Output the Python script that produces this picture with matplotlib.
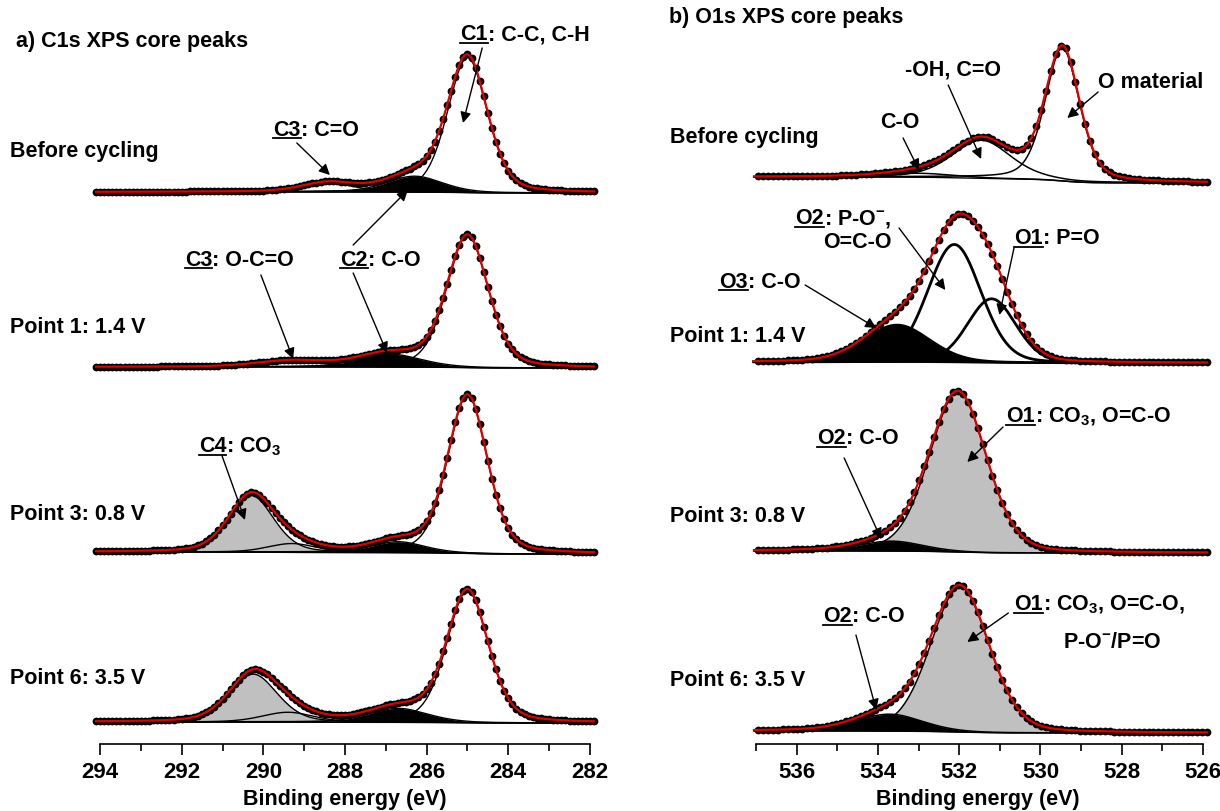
import numpy as np
import matplotlib
matplotlib.use("Agg")
import matplotlib.pyplot as plt
from matplotlib.lines import Line2D
from matplotlib.transforms import IdentityTransform

plt.rcParams['font.family'] = ['Liberation Sans', 'DejaVu Sans']
plt.rcParams['font.weight'] = 'bold'
plt.rcParams['mathtext.fontset'] = 'custom'
plt.rcParams['mathtext.rm'] = 'Liberation Sans:bold'
plt.rcParams['mathtext.it'] = 'Liberation Sans:bold'
plt.rcParams['mathtext.bf'] = 'Liberation Sans:bold'
plt.rcParams['mathtext.sf'] = 'Liberation Sans:bold'
plt.rcParams['mathtext.default'] = 'rm'

# ---------------- data ----------------
sample_labels = ["Before cycling", "Point 1: 1.4 V", "Point 3: 0.8 V", "Point 6: 3.5 V"]

# C1s fitted components: binding energy (eV), height (a.u.), FWHM (eV)
c1s_span = (281.9, 294.1)
c1s_centers = [[285.0, 286.3, 288.4],
               [285.0, 286.9, 289.3],
               [285.0, 286.7, 289.3, 290.3],
               [285.0, 286.7, 289.4, 290.25]]
c1s_heights = [[135, 16, 9],
               [132, 13, 6],
               [158, 11, 9, 57],
               [132, 14, 10, 48]]
c1s_fwhm = [[1.15, 1.6, 1.5],
            [1.2, 1.8, 2.0],
            [1.15, 1.5, 1.4, 1.3],
            [1.2, 1.7, 1.5, 1.4]]
c1s_fill = [['none', 'black', 'none'],
            ['none', 'black', 'none'],
            ['none', 'black', 'none', 'gray'],
            ['none', 'black', 'none', 'gray']]
c1s_bg_step = [1, 1, 2, 1]

# O1s fitted components
o1s_span = (525.9, 537.05)
o1s_centers = [[529.46, 531.45, 533.0],
               [531.2, 532.12, 533.53],
               [532.03, 533.67],
               [531.98, 533.72]]
o1s_heights = [[133, 38, 4],
               [64, 118, 37],
               [160, 10],
               [145, 17]]
o1s_fwhm = [[1.0, 1.7, 2.0],
            [1.4, 1.55, 1.9],
            [1.65, 1.8],
            [1.7, 1.9]]
o1s_fill = [['none', 'none', 'none'],
            ['none', 'none', 'black'],
            ['gray', 'black'],
            ['gray', 'black']]
o1s_bg_step = [6, 1, 2, 2]
o1s_mix = [0.35, 0.15, 0.2, 0.2]

c1s_ticks = [294, 292, 290, 288, 286, 284, 282]
o1s_ticks = [536, 534, 532, 530, 528, 526]

# ---------------- layout ----------------
c1s_offsets = [551, 376, 190, 21]
o1s_offsets = [561, 381, 191, 11]
FS = 15.5
W, H = 1220, 811
fig = plt.figure(figsize=(W / 100, H / 100), dpi=100)

def px_axes(x0, x1, ybot, ytop):
    return fig.add_axes([x0 / W, 1 - ybot / H, (x1 - x0) / W, (ybot - ytop) / H])

axL = px_axes(83.7, 606.3, 744, 0)
axR = px_axes(743.8, 1211.1, 744, 0)
axL.set_xlim(294.4, 281.6)
axR.set_xlim(537.3, 525.8)
for ax in (axL, axR):
    ax.set_ylim(0, 744)
    ax.patch.set_alpha(0)
    for s in ('left', 'right', 'top'):
        ax.spines[s].set_visible(False)
    ax.spines['bottom'].set_linewidth(1.2)
    ax.set_yticks([])
    ax.tick_params(axis='x', which='major', direction='out', length=8, width=1.2,
                   labelsize=16, pad=5)
    ax.tick_params(axis='x', which='minor', direction='out', length=5, width=1.2)
    ax.set_xlabel("Binding energy (eV)", fontsize=FS, fontweight='bold', labelpad=4)

axL.spines['bottom'].set_bounds(294, 282)
axL.set_xticks(c1s_ticks)
axL.set_xticks(np.arange(282, 295, 1), minor=True)
axR.spines['bottom'].set_bounds(537, 526)
axR.set_xticks(o1s_ticks)
axR.set_xticks(np.arange(526, 538, 1), minor=True)


def pv(x, c, h, w, m):
    d = (x - c) / w
    return h * ((1 - m) * np.exp(-4 * np.log(2) * d ** 2) + m / (1 + 4 * d ** 2))


def draw_spectrum(ax, span, centers, heights, fwhms, fills, step, offset, mix, lwc, dstep):
    x = np.linspace(span[0], span[1], 1200)
    comps = [pv(x, c, h, w, mix) for c, h, w in zip(centers, heights, fwhms)]
    total = np.sum(comps, axis=0)
    cum = np.cumsum(total)
    cum = cum / cum[-1]
    bg = offset + step * cum
    for comp, f in zip(comps, fills):
        if f == 'gray':
            ax.fill_between(x, bg, bg + comp, color='#c0c0c0', lw=0, zorder=1)
        elif f == 'black':
            ax.fill_between(x, bg, bg + comp, color='black', lw=0, zorder=1)
        ax.plot(x, bg + comp, color='black', lw=lwc, zorder=2)
    ax.plot(x, bg, color='black', lw=1.0, zorder=2)
    xd = np.arange(span[0], span[1] + 1e-9, dstep)
    compsd = [pv(xd, c, h, w, mix) for c, h, w in zip(centers, heights, fwhms)]
    bgd = np.interp(xd, x, bg)
    ax.plot(xd, bgd + np.sum(compsd, axis=0), 'o', color='black', ms=5.6, mew=0, zorder=3)
    ax.plot(x, bg + total, color='#e00000', lw=1.6, zorder=4)


for i in range(4):
    draw_spectrum(axL, c1s_span, c1s_centers[i], c1s_heights[i], c1s_fwhm[i], c1s_fill[i],
                  c1s_bg_step[i], c1s_offsets[i], 0.3, 1.0, 0.1)
    draw_spectrum(axR, o1s_span, o1s_centers[i], o1s_heights[i], o1s_fwhm[i], o1s_fill[i],
                  o1s_bg_step[i], o1s_offsets[i], o1s_mix[i], 2.0 if i == 1 else 1.1, 0.12)

# ---------------- texts ----------------
axL.text(296.06, 702, "a) C1s XPS core peaks", fontsize=FS, fontweight='bold', va='center', ha='left')
axR.text(539.14, 726, "b) O1s XPS core peaks", fontsize=FS, fontweight='bold', va='center', ha='left')
for lab, y in zip(sample_labels, [592, 416, 229, 66]):
    axL.text(296.2, y, lab, fontsize=FS, fontweight='bold', va='center', ha='left')
for lab, y in zip(sample_labels, [606, 407, 227, 64]):
    axR.text(539.12, y, lab, fontsize=FS, fontweight='bold', va='center', ha='left')

ul_items = []


def ulabel(ax, x, yc, under, rest):
    t = ax.text(x, yc - 7.5, under, fontsize=FS, fontweight='bold', va='baseline', ha='left')
    t2 = ax.text(x, yc - 7.5, rest, fontsize=FS, fontweight='bold', va='baseline', ha='left')
    ul_items.append((ax, t, t2))


def plain(ax, x, yc, s):
    ax.text(x, yc, s, fontsize=FS, fontweight='bold', va='center', ha='left')


def arrow(ax, start, tip):
    ax.annotate('', xy=tip, xytext=start,
                arrowprops=dict(arrowstyle='-|>', color='black', lw=1.0,
                                mutation_scale=16, shrinkA=0, shrinkB=0), zorder=6)

# C1s annotations
ulabel(axL, 285.18, 711, "C1", ": C-C, C-H")
arrow(axL, (284.64, 696), (285.11, 621))
ulabel(axL, 289.76, 616, "C3", ": C=O")
arrow(axL, (289.18, 601), (288.37, 569))
ulabel(axL, 288.12, 486, "C2", ": C-O")
arrow(axL, (287.80, 499), (286.46, 554))
arrow(axL, (287.80, 471), (286.97, 391))
ulabel(axL, 291.92, 486, "C3", ": O-C=O")
arrow(axL, (290.06, 469), (289.27, 385))
ulabel(axL, 291.58, 299, "C4", r": CO$_3$")
arrow(axL, (291.01, 288), (290.45, 224))

# O1s annotations
plain(axR, 533.33, 674, "-OH, C=O")
arrow(axR, (532.27, 659), (531.46, 585))
plain(axR, 528.58, 661, "O material")
arrow(axR, (528.58, 652), (529.34, 626))
plain(axR, 533.95, 621, "C-O")
arrow(axR, (533.38, 606), (532.99, 574))
ulabel(axR, 536.04, 527, "O2", r": P-O$^{-}$,")
plain(axR, 535.35, 501, "O=C-O")
arrow(axR, (533.48, 516), (532.34, 454))
ulabel(axR, 530.65, 507, "O1", ": P=O")
arrow(axR, (530.65, 496), (531.01, 429))
ulabel(axR, 537.91, 464, "O3", ": C-O")
arrow(axR, (535.79, 459), (534.04, 416))
ulabel(axR, 535.50, 307, "O2", ": C-O")
arrow(axR, (534.83, 286), (533.92, 205))
ulabel(axR, 530.84, 329, "O1", r": CO$_3$, O=C-O")
arrow(axR, (530.92, 317), (531.80, 282))
ulabel(axR, 535.35, 129, "O2", ": C-O")
arrow(axR, (534.54, 109), (534.04, 34))
ulabel(axR, 530.65, 141, "O1", r": CO$_3$, O=C-O,")
plain(axR, 529.44, 102, r"P-O$^{-}$/P=O")
arrow(axR, (530.79, 131), (531.80, 102))

# position second parts and underline first parts
fig.canvas.draw()
r = fig.canvas.get_renderer()
for ax, t, t2 in ul_items:
    bb = t.get_window_extent(renderer=r)
    xb, yb = ax.transData.transform(t.get_position())
    xd, _ = ax.transData.inverted().transform((bb.x1, yb))
    t2.set_x(xd)
    fig.add_artist(Line2D([bb.x0, bb.x1], [yb - 2.5, yb - 2.5], color='black', lw=1.3,
                          transform=IdentityTransform()))

fig.savefig("out.png", dpi=100)
